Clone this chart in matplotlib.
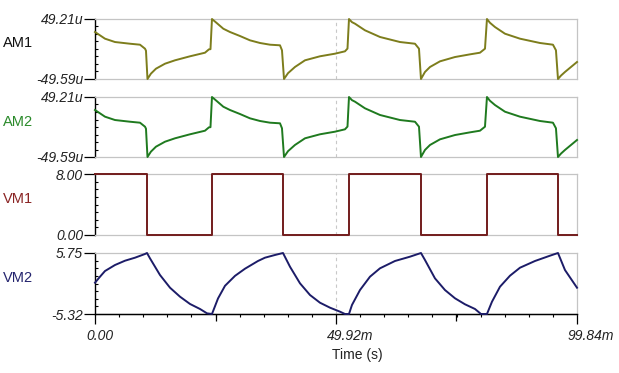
import matplotlib
matplotlib.use("Agg")
import matplotlib.pyplot as plt
from matplotlib.transforms import ScaledTranslation
from matplotlib.ticker import FixedLocator

plt.rcParams['font.family'] = ['Liberation Sans', 'DejaVu Sans']

# ---- data (time in ms) ----
am1_t = [0.00, 2.07, 4.14, 7.25, 9.32, 10.36, 10.56, 10.87, 11.58, 12.63, 14.50, 16.57,
         19.68, 22.78, 23.61, 23.92, 24.23, 25.21, 26.58, 27.96, 30.03, 32.10, 34.18,
         36.25, 38.32, 38.73, 39.15, 39.98, 41.42, 43.50, 46.60, 49.71, 51.78, 52.30,
         52.61, 53.23, 53.85, 55.92, 59.03, 63.17, 66.28, 67.11, 67.52, 68.35, 69.39,
         71.46, 74.57, 77.67, 79.74, 80.78, 81.19, 81.81, 82.85, 84.92, 88.03, 92.17,
         94.86, 95.48, 95.90, 96.52, 97.35, 99.84]
am1_v = [27.8, 16.8, 11.3, 8.5, 6.9, 0.3, -3.0, -49.59, -40.8, -32.6, -24.4, -18.8,
         -12.2, -6.3, -0.7, -0.5, 49.21, 42.6, 33.2, 27.8, 21.2, 14.1, 9.7,
         6.9, 5.9, -2.3, -49.59, -40.0, -29.8, -18.8, -12.2, -7.9, -4.0, 0.5,
         49.21, 44.0, 41.5, 30.6, 19.6, 11.3, 8.5, 0.3, -49.59, -38.0, -29.8,
         -20.5, -13.4, -9.0, -6.3, 0.3, 49.21, 43.0, 36.0, 25.0, 16.8, 9.7,
         6.9, -2.3, -49.59, -44.0, -38.0, -21.6]
am2_t = list(am1_t)
am2_v = [27.8, 16.8, 11.3, 8.5, 6.9, 0.3, -3.0, -49.59, -40.8, -32.6, -24.4, -18.8,
         -12.2, -6.3, -0.7, -0.5, 49.21, 42.6, 33.2, 27.8, 21.2, 14.1, 9.7,
         6.9, 5.9, -2.3, -49.59, -40.0, -29.8, -18.8, -12.2, -7.9, -4.0, 0.5,
         49.21, 44.0, 41.5, 30.6, 19.6, 11.3, 8.5, 0.3, -49.59, -38.0, -29.8,
         -20.5, -13.4, -9.0, -6.3, 0.3, 49.21, 43.0, 36.0, 25.0, 16.8, 9.7,
         6.9, -2.3, -49.59, -44.0, -38.0, -21.6]
vm1_t = [0.00, 10.77, 24.23, 38.94, 52.61, 67.52, 81.19, 95.90, 99.84]
vm1_v = [8.0, 0.0, 8.0, 0.0, 8.0, 0.0, 8.0, 0.0, 0.0]
vm2_t = [0.00, 1.04, 2.07, 4.14, 6.21, 8.29, 10.36, 10.77, 11.39, 13.46, 15.54, 17.61,
         19.68, 21.75, 23.20, 24.23, 25.48, 26.93, 29.00, 31.07, 33.76, 35.21, 37.28,
         38.94, 40.39, 42.46, 44.53, 46.60, 48.67, 50.75, 51.78, 52.61, 53.23, 54.89,
         56.96, 59.03, 62.14, 65.24, 67.52, 68.35, 70.42, 72.49, 74.57, 76.64, 78.71,
         79.95, 81.19, 82.23, 83.89, 85.96, 88.03, 91.14, 94.24, 95.90, 97.35, 99.84]
vm2_v = [0.36, 1.45, 2.48, 3.57, 4.35, 4.90, 5.57, 5.75, 4.78, 1.76, -0.55, -2.18,
         -3.50, -4.41, -5.20, -5.32, -2.50, -0.20, 1.60, 2.90, 4.30, 4.90, 5.39,
         5.75, 3.26, 0.25, -1.87, -3.27, -4.17, -4.90, -5.32, -5.32, -3.68, -0.97,
         1.45, 2.97, 4.30, 5.08, 5.75, 4.48, 1.15, -0.97, -2.47, -3.56, -4.41,
         -5.32, -5.32, -3.09, -0.37, 1.63, 3.08, 4.30, 5.26, 5.75, 2.66, -0.55]

names = ["AM1", "AM2", "VM1", "VM2"]
line_colors = ["#7d7d1c", "#1f7a1f", "#721c1c", "#1c1c68"]
label_colors = ["#111111", "#2a8a2a", "#8a2424", "#24246e"]
ylims = [(-49.59, 49.21), (-49.59, 49.21), (0.0, 8.0), (-5.32, 5.75)]
ylabels = [("-49.59u", "49.21u"), ("-49.59u", "49.21u"), ("0.00", "8.00"), ("-5.32", "5.75")]
series = [(am1_t, am1_v, None), (am2_t, am2_v, None), (vm1_t, vm1_v, 'steps-post'), (vm2_t, vm2_v, None)]
xmax = 99.84
xticks = [0.0, 49.92, 99.84]
xticklabels = ["0.00", "49.92m", "99.84m"]

W, H = 619, 373
fig = plt.figure(figsize=(W / 100, H / 100), dpi=100)

# pixel boxes (top, bottom)
boxes = [(19, 79), (97, 157), (174, 235), (253, 314)]
label_y = [43, 122, 199, 278]
L, R = 95, 577
grey = "#c4c4c4"

axes = []
for i, (top, bot) in enumerate(boxes):
    ax = fig.add_axes([L / W, 1 - bot / H, (R - L) / W, (bot - top) / H])
    t, v, ds = series[i]
    kw = {}
    if ds:
        kw['drawstyle'] = ds
    ax.plot(t, v, color=line_colors[i], lw=1.4, clip_on=False, zorder=3,
            solid_joinstyle='round', **kw)
    ax.set_xlim(0, xmax)
    lo, hi = ylims[i]
    ax.set_ylim(lo, hi)
    ax.axvline(49.92, color="#c8c8c8", lw=0.8, ls=(0, (3, 3)), zorder=1)
    for s in ['top', 'right', 'bottom']:
        ax.spines[s].set_color(grey)
        ax.spines[s].set_linewidth(0.9)
    ax.spines['left'].set_color('black')
    ax.spines['left'].set_linewidth(1.0)
    ax.set_yticks([lo, hi])
    ax.set_yticklabels(list(ylabels[i]), fontstyle='italic', fontsize=10, color='#222222')
    step = (hi - lo) / 8
    ax.yaxis.set_minor_locator(FixedLocator([lo + k * step for k in range(1, 8)]))
    ax.tick_params(axis='y', which='major', direction='out', length=8, width=0.9, pad=0.5)
    ax.tick_params(axis='y', which='minor', direction='in', length=2.5, width=0.8)
    fig.text(3 / W, 1 - label_y[i] / H, names[i], color=label_colors[i], fontsize=10.5,
             ha='left', va='center')
    if i < 3:
        ax.set_xticks([])
    else:
        ax.spines['bottom'].set_color('black')
        ax.spines['bottom'].set_linewidth(1.0)
        ax.set_xticks(xticks)
        ax.set_xticklabels(xticklabels, fontstyle='italic', fontsize=10, color='#222222')
        ax.xaxis.set_minor_locator(FixedLocator([k * xmax / 20 for k in range(1, 20)]))
        ax.tick_params(axis='x', which='major', direction='out', length=7, width=0.9, pad=4)
        ax.tick_params(axis='x', which='minor', direction='out', length=2.5, width=0.8)
        off = ScaledTranslation(-9 / 100, 0, fig.dpi_scale_trans)
        for lbl in ax.get_xticklabels():
            lbl.set_horizontalalignment('left')
            lbl.set_transform(lbl.get_transform() + off)
        sec = ax.secondary_xaxis('bottom')
        sec.set_xticks([xmax / 4, 3 * xmax / 4])
        sec.set_xticklabels(["", ""])
        sec.tick_params(axis='x', direction='out', length=5, width=0.9)
        sec.spines['bottom'].set_color('black')
    axes.append(ax)

fig.text(332 / W, 1 - 355 / H, "Time (s)", fontsize=10, color='#222222', ha='left', va='center')

fig.savefig("out.png", dpi=100)
